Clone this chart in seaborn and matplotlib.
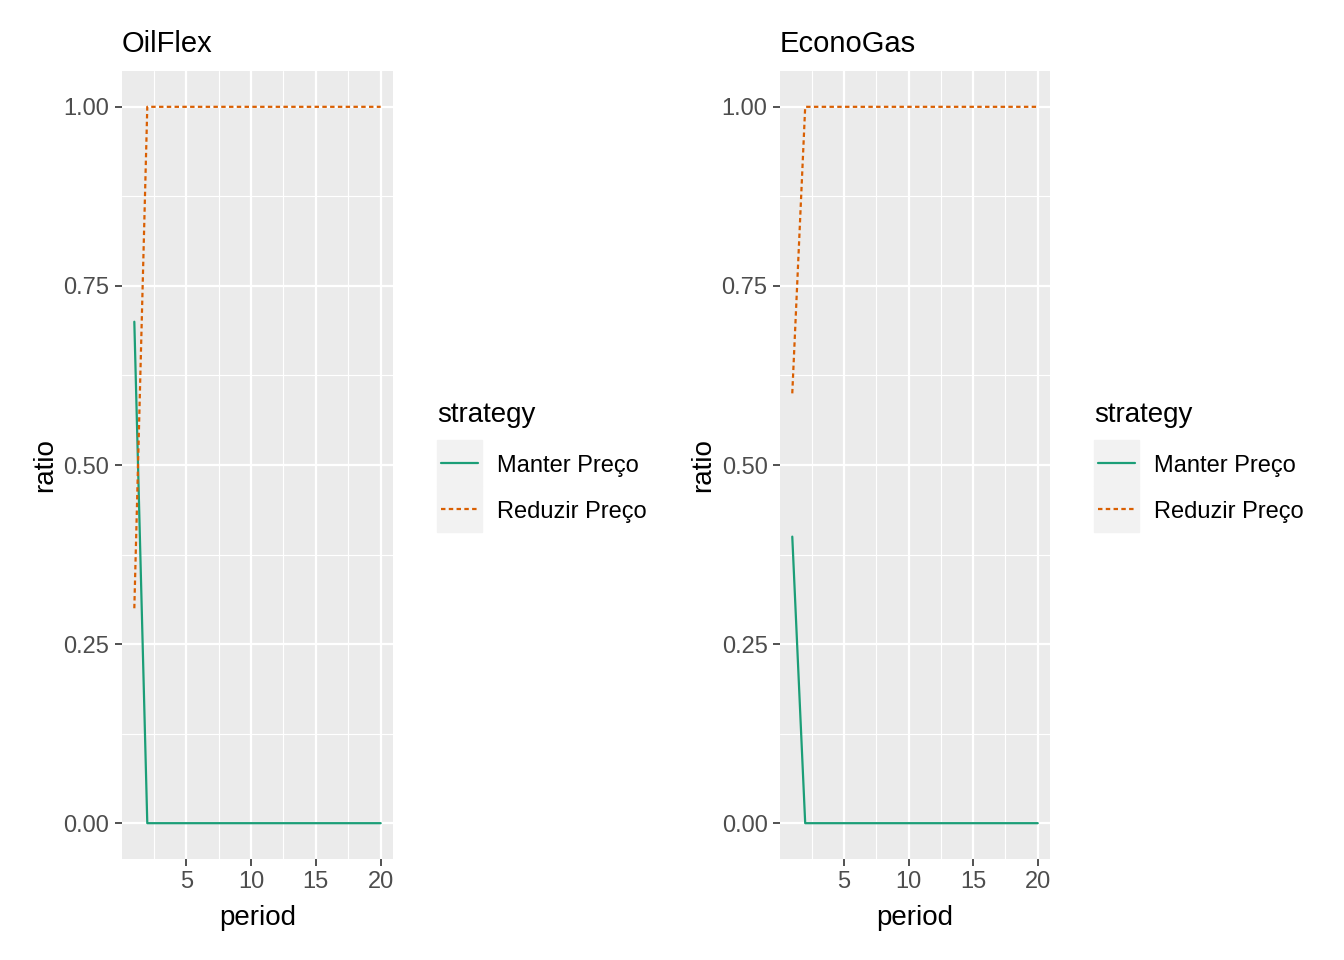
import numpy as np
import pandas as pd
import matplotlib
matplotlib.use('Agg')
import matplotlib.pyplot as plt
from matplotlib.lines import Line2D
from matplotlib.patches import Rectangle
import seaborn as sns

# ==========================================
# data
# ==========================================
periods = list(range(1, 21))
strategies = ['Manter Preço', 'Reduzir Preço']
oilflex_manter = [0.7] + [0.0] * 19
oilflex_reduzir = [0.3] + [1.0] * 19
econogas_manter = [0.4] + [0.0] * 19
econogas_reduzir = [0.6] + [1.0] * 19

panels = [
    ('OilFlex', oilflex_manter, oilflex_reduzir),
    ('EconoGas', econogas_manter, econogas_reduzir),
]

palette = {'Manter Preço': '#1B9E77', 'Reduzir Preço': '#D95F02'}
dashes = {'Manter Preço': '', 'Reduzir Preço': (2, 1.5)}

sns.set_style('white')
plt.rcParams['font.family'] = ['Liberation Sans', 'DejaVu Sans']
plt.rcParams['text.color'] = 'black'

W, H = 1344, 960
fig = plt.figure(figsize=(W / 100, H / 100), dpi=100)

# pixel boxes (left, top, right, bottom) for each panel
boxes = [(122, 71, 393, 859), (780, 71, 1050, 859)]
legend_x = [437, 1094]


def fx(px):
    return px / W


def fy(py):
    return 1 - py / H


for (title, manter, reduzir), (l, t, r, b), lx in zip(panels, boxes, legend_x):
    df = pd.DataFrame({
        'period': periods * 2,
        'ratio': manter + reduzir,
        'strategy': [strategies[0]] * len(periods) + [strategies[1]] * len(periods),
    })
    ax = fig.add_axes([fx(l), fy(b), (r - l) / W, (b - t) / H])
    ax.set_facecolor('#EBEBEB')
    ax.set_xlim(0.05, 20.95)
    ax.set_ylim(-0.05, 1.05)
    ax.set_xticks([5, 10, 15, 20])
    ax.set_yticks([0, 0.25, 0.5, 0.75, 1.0])
    ax.set_yticklabels(['0.00', '0.25', '0.50', '0.75', '1.00'])
    ax.set_xticks([2.5, 7.5, 12.5, 17.5], minor=True)
    ax.set_yticks([0.125, 0.375, 0.625, 0.875], minor=True)
    ax.grid(which='major', color='white', lw=1.6)
    ax.grid(which='minor', color='white', lw=0.8)
    ax.set_axisbelow(True)
    for s in ax.spines.values():
        s.set_visible(False)

    sns.lineplot(data=df, x='period', y='ratio', hue='strategy', style='strategy',
                 palette=palette, dashes=dashes, lw=1.6, ax=ax, legend=False)

    ax.tick_params(axis='both', which='major', bottom=True, left=True, length=5,
                   width=1.2, color='#333333', labelsize=17, labelcolor='#4D4D4D', pad=4)
    ax.tick_params(which='minor', length=0)
    ax.set_xlabel('period', fontsize=20, color='black', labelpad=8)
    ax.set_ylabel('ratio', fontsize=20, color='black', labelpad=4)
    ax.set_title(title, fontsize=21, loc='left', color='black', pad=14)

    # legend drawn the ggplot way: title, grey key boxes, lines, labels
    fig.text(fx(lx), fy(415), 'strategy', fontsize=20, va='center', ha='left', color='black')
    for i, s in enumerate(strategies):
        ky = 440 + 46 * i
        fig.patches.append(Rectangle((fx(lx), fy(ky + 46)), 45 / W, 46 / H,
                                     transform=fig.transFigure, color='#F2F2F2', zorder=0))
        cy = ky + 23
        ln = Line2D([fx(lx + 4), fx(lx + 41)], [fy(cy), fy(cy)], transform=fig.transFigure,
                    color=palette[s], lw=1.6)
        if dashes[s]:
            ln.set_dashes(dashes[s])
        fig.lines.append(ln)
        fig.text(fx(lx + 60), fy(cy + 3), s, fontsize=17, va='center', ha='left', color='black')

fig.savefig('out.png', dpi=100)
